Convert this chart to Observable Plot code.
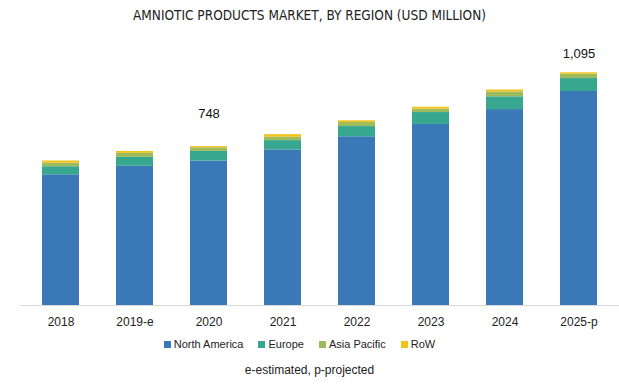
<!DOCTYPE html>
<html>
<head>
<meta charset="utf-8">
<script src="https://cdn.jsdelivr.net/npm/d3@7"></script>
<script src="https://cdn.jsdelivr.net/npm/@observablehq/plot@0.6"></script>
<style>
  body { margin: 0; background: #fff; width: 619px; height: 388px; overflow: hidden; font-family: "Liberation Sans", Arial, sans-serif; }
  #title { position: absolute; top: 0; left: 0; width: 619px; height: 30px; line-height: 31px; text-align: center;
           font-family: "Liberation Sans Narrow", "Arial Narrow", "DejaVu Sans Condensed", sans-serif; font-size: 13.5px; color: #222; }
  #chart { position: absolute; top: 30px; left: 0; }
  #legend { position: absolute; top: 338px; left: 0; width: 619px; display: flex; justify-content: center; gap: 15px; font-size: 11px; color: #222; padding-right: 20px; box-sizing: border-box; }
  #legend span.item { display: flex; align-items: center; }
  #legend span.sw { display: inline-block; width: 7px; height: 7px; margin-right: 3px; }
  #caption { position: absolute; top: 363px; left: 0; width: 619px; text-align: center; font-size: 12px; color: #222; }
</style>
</head>
<body>
<div id="title">AMNIOTIC PRODUCTS MARKET, BY REGION (USD MILLION)</div>
<div id="chart"></div>
<div id="legend"></div>
<div id="caption">e-estimated, p-projected</div>
<script>
const years = ["2018", "2019-e", "2020", "2021", "2022", "2023", "2024", "2025-p"];
const regions = ["North America", "Europe", "Asia Pacific", "RoW"];
const colors = ["#3a78b7", "#38a790", "#9dbb5d", "#f0c21a"];
const northAmerica = [615, 655, 680, 732, 794, 852, 922, 1007];
const europe = [38, 42, 45, 44, 48, 56, 60, 61];
const asiaPacific = [17, 19, 17, 16, 19, 16, 23, 20];
const row = [10, 9, 6, 12, 8, 9, 9, 7];
const labelYears = ["2020", "2025-p"];
const labelTexts = ["748", "1,095"];

const series = [northAmerica, europe, asiaPacific, row];
const data = [];
years.forEach((y, i) => {
  regions.forEach((r, j) => data.push({year: y, region: r, value: series[j][i]}));
});
const totals = years.map((y, i) => ({year: y, total: series.reduce((s, a) => s + a[i], 0)}));
const labels = labelYears.map((y, k) => ({year: y, text: labelTexts[k], total: totals.find(t => t.year === y).total}));

const chart = Plot.plot({
  width: 619,
  height: 305,
  marginLeft: 20,
  marginRight: 0,
  marginTop: 20,
  marginBottom: 30,
  style: {fontFamily: "'Liberation Sans', Arial, sans-serif", fontSize: "12px", color: "#222", background: "#fff"},
  x: {domain: years, paddingInner: 0.5, paddingOuter: 0.26, label: null, tickSize: 0, tickPadding: 12},
  y: {domain: [0, 1200], axis: null},
  color: {domain: regions, range: colors},
  marks: [
    Plot.barY(data, {x: "year", y: "value", fill: "region", order: regions}),
    Plot.ruleY([0], {stroke: "#d9d9d9", strokeWidth: 1}),
    Plot.text(labels.slice(0, 1), {x: "year", y: "total", text: "text", dy: -33, fontSize: 13, fill: "#111"}),
    Plot.text(labels.slice(1), {x: "year", y: "total", text: "text", dy: -19, fontSize: 13, fill: "#111"})
  ]
});
document.getElementById("chart").appendChild(chart);

const legend = document.getElementById("legend");
regions.forEach((r, j) => {
  const item = document.createElement("span");
  item.className = "item";
  const sw = document.createElement("span");
  sw.className = "sw";
  sw.style.background = colors[j];
  item.appendChild(sw);
  item.appendChild(document.createTextNode(r));
  legend.appendChild(item);
});
</script>
</body>
</html>
